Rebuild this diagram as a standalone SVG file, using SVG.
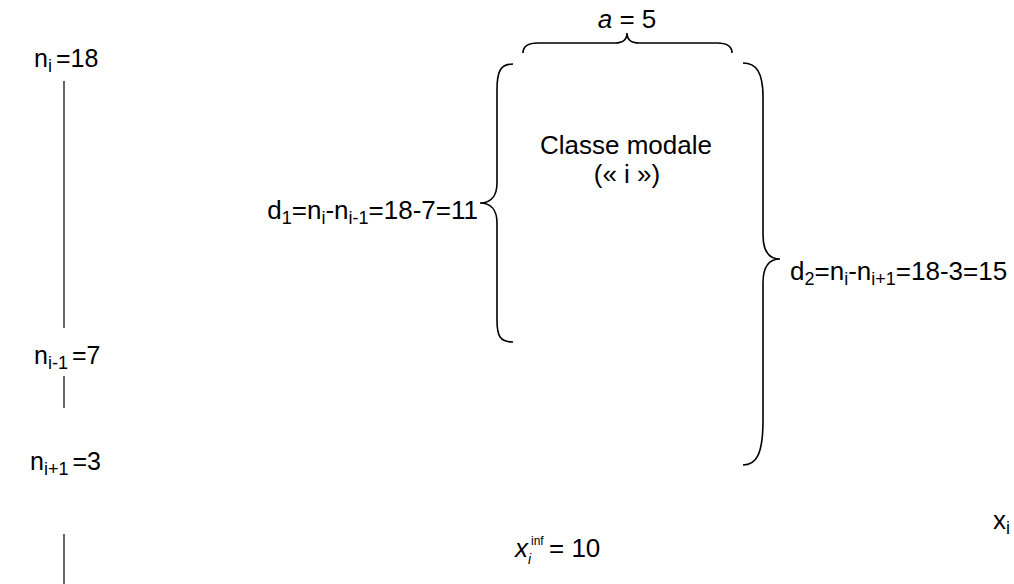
<svg xmlns="http://www.w3.org/2000/svg" width="1014" height="584" viewBox="0 0 1014 584">
<style>
.t{font-family:"Liberation Sans",Arial,sans-serif;font-size:26px;fill:#000}
.n{font-size:25px}
.s{font-size:18px}
.br{fill:none;stroke:#000;stroke-width:1.6}
.ax{stroke:#000;stroke-width:1.2}
</style>
<rect width="1014" height="584" fill="#fff"/>
<g id="axis">
<line class="ax" x1="64" y1="81" x2="64" y2="328"/>
<line class="ax" x1="64" y1="376" x2="64" y2="408"/>
<line class="ax" x1="64" y1="534" x2="64" y2="584"/>
</g>
<g id="label-ni"><text class="t n" x="34" y="67">n<tspan class="s" dy="5">i</tspan><tspan dy="-5" dx="4">=18</tspan></text></g>
<g id="label-ni-1"><text class="t n" x="34" y="364">n<tspan class="s" dy="5">i-1</tspan><tspan dy="-5" dx="4">=7</tspan></text></g>
<g id="label-ni+1"><text class="t n" x="30" y="470">n<tspan class="s" dy="5">i+1</tspan><tspan dy="-5" dx="4">=3</tspan></text></g>
<g id="connectors">
<path class="br" d="M523,53 C523,46 528,43 538,43 L615,43 C622,43 627,40 627,33 C627,40 632,43 639,43 L717,43 C727,43 732,46 732,53"/>
<path class="br" d="M513,64 C500,64 497,72 497,90 L497,183 C497,197 490,203 480,203 C490,203 497,209 497,223 L497,320 C497,336 500,342 513,342"/>
<path class="br" d="M743,63 C756,63 763,72 763,97 L763,235 C763,252 770,259 780,259 C770,259 763,266 763,283 L763,420 C763,455 756,465 743,465"/>
</g>
<g id="label-a"><text class="t" x="627" y="28" text-anchor="middle"><tspan font-style="italic">a</tspan> = 5</text></g>
<g id="classe"><text class="t" x="626" y="154" text-anchor="middle">Classe modale</text><text class="t" x="627" y="183" text-anchor="middle">(« i »)</text></g>
<g id="label-d1"><text class="t" x="478" y="219" text-anchor="end">d<tspan class="s" dy="5">1</tspan><tspan dy="-5">=n</tspan><tspan class="s" dy="5">i</tspan><tspan dy="-5">-n</tspan><tspan class="s" dy="5">i-1</tspan><tspan dy="-5">=18-7=11</tspan></text></g>
<g id="label-d2"><text class="t" x="790" y="280">d<tspan class="s" dy="5">2</tspan><tspan dy="-5">=n</tspan><tspan class="s" dy="5">i</tspan><tspan dy="-5">-n</tspan><tspan class="s" dy="5">i+1</tspan><tspan dy="-5">=18-3=15</tspan></text></g>
<g id="label-xi"><text class="t" x="993" y="529">x<tspan class="s" dy="5">i</tspan></text></g>
<g id="label-xinf"><text class="t" x="515" y="557" style="font-style:italic">x</text><text class="t" x="531" y="545" style="font-size:12px">inf</text><text class="t" x="528" y="564" style="font-size:14px;font-style:italic">i</text><text class="t" x="549" y="557">= 10</text></g>
</svg>
